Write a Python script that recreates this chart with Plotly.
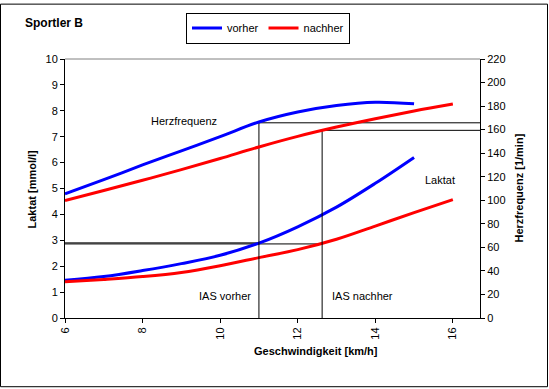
import plotly.graph_objects as go

# ---- data ----
speed_vorher = [6, 7, 8, 9, 10, 11, 12, 13, 14, 15]
hr_vorher = [105.4, 117.5, 130.0, 142.0, 154.0, 166.5, 175.0, 180.5, 183.3, 182.0]
laktat_vorher = [1.46, 1.6, 1.83, 2.1, 2.42, 2.89, 3.52, 4.28, 5.2, 6.2]

speed_nachher = [6, 7, 8, 9, 10, 11, 12, 13, 14, 15, 16]
hr_nachher = [99.8, 108.3, 117.0, 126.0, 135.5, 145.3, 154.3, 162.2, 169.3, 175.8, 181.7]
laktat_nachher = [1.40, 1.49, 1.6, 1.76, 2.02, 2.33, 2.64, 3.04, 3.55, 4.07, 4.57]

ias_speed = [11.0, 12.63]          # vorher, nachher
ias_laktat = [2.9, 2.86]
ias_hr = [165.8, 159.4]

x_range = [6, 16.7]
x_ticks = [6, 8, 10, 12, 14, 16]
laktat_range = [0, 10]
hr_range = [0, 220]

series_names = ["vorher", "nachher"]
colors = ["#0000FF", "#FF0000"]

FONT = "Liberation Sans, Arial, sans-serif"

fig = go.Figure()

# reference lines (IAS)
for i in range(2):
    fig.add_trace(go.Scatter(x=[x_range[0], ias_speed[i]], y=[ias_laktat[i], ias_laktat[i]],
                             mode="lines", line=dict(color="black", width=1),
                             showlegend=False, hoverinfo="skip", yaxis="y"))
    fig.add_trace(go.Scatter(x=[ias_speed[i], ias_speed[i]], y=[0, ias_hr[i]],
                             mode="lines", line=dict(color="black", width=1),
                             showlegend=False, hoverinfo="skip", yaxis="y2"))
    fig.add_trace(go.Scatter(x=[ias_speed[i], x_range[1]], y=[ias_hr[i], ias_hr[i]],
                             mode="lines", line=dict(color="black", width=1),
                             showlegend=False, hoverinfo="skip", yaxis="y2"))

# curves
fig.add_trace(go.Scatter(x=speed_vorher, y=hr_vorher, mode="lines", name=series_names[0],
                         line=dict(color=colors[0], width=3, shape="spline"), yaxis="y2"))
fig.add_trace(go.Scatter(x=speed_nachher, y=hr_nachher, mode="lines", name=series_names[1],
                         line=dict(color=colors[1], width=3, shape="spline"), yaxis="y2"))
fig.add_trace(go.Scatter(x=speed_vorher, y=laktat_vorher, mode="lines", showlegend=False,
                         line=dict(color=colors[0], width=3, shape="spline"), yaxis="y"))
fig.add_trace(go.Scatter(x=speed_nachher, y=laktat_nachher, mode="lines", showlegend=False,
                         line=dict(color=colors[1], width=3, shape="spline"), yaxis="y"))

axis_common = dict(showgrid=False, zeroline=False, showline=True, linecolor="black", linewidth=1,
                   ticks="outside", ticklen=4, tickcolor="black",
                   tickfont=dict(family=FONT, size=11, color="black"))

L, R, T, B = 65, 69, 56, 71
W, H = 549, 389
pw, ph = W - L - R, H - T - B

def px_x(p):
    return (p - L) / pw

def px_y(p):
    return (H - B - p) / ph

fig.update_layout(
    width=W, height=H,
    margin=dict(l=L, r=R, t=T, b=B, pad=0),
    paper_bgcolor="white", plot_bgcolor="white",
    font=dict(family=FONT, size=11, color="black"),
    xaxis=dict(range=x_range, tickvals=x_ticks, tickangle=-90, **axis_common),
    yaxis=dict(range=laktat_range, dtick=1, **axis_common),
    yaxis2=dict(range=hr_range, dtick=20, overlaying="y", side="right", **axis_common),
    showlegend=True,
    legend=dict(orientation="h", x=px_x(186), y=px_y(9), xanchor="left", yanchor="top",
                bordercolor="black", borderwidth=1, bgcolor="white",
                font=dict(family=FONT, size=11), itemwidth=30,
                tracegroupgap=0),
    annotations=[
        dict(text="<b>Sportler B</b>", xref="paper", yref="paper", x=px_x(23), y=px_y(20),
             xanchor="left", yanchor="middle", showarrow=False, font=dict(size=12)),
        dict(text="<b>Geschwindigkeit [km/h]</b>", xref="paper", yref="paper", x=px_x(316), y=px_y(351),
             xanchor="center", yanchor="middle", showarrow=False, font=dict(size=11)),
        dict(text="<b>Laktat [mmol/l]</b>", xref="paper", yref="paper", x=px_x(32), y=px_y(188),
             xanchor="center", yanchor="middle", showarrow=False, textangle=-90, font=dict(size=11)),
        dict(text="<b>Herzfrequenz [1/min]</b>", xref="paper", yref="paper", x=px_x(518), y=px_y(187),
             xanchor="center", yanchor="middle", showarrow=False, textangle=-90, font=dict(size=11)),
        dict(text="Herzfrequenz", xref="x", yref="y", x=8.16, y=7.6,
             xanchor="left", yanchor="middle", showarrow=False),
        dict(text="Laktat", xref="x", yref="y", x=15.23, y=5.31,
             xanchor="left", yanchor="middle", showarrow=False),
        dict(text="IAS vorher", xref="x", yref="y", x=9.41, y=0.86,
             xanchor="left", yanchor="middle", showarrow=False),
        dict(text="IAS nachher", xref="x", yref="y", x=12.84, y=0.86,
             xanchor="left", yanchor="middle", showarrow=False),
    ],
    shapes=[
        dict(type="line", xref="paper", yref="paper", x0=0, x1=1, y0=1, y1=1,
             line=dict(color="#808080", width=1)),
        dict(type="rect", xref="paper", yref="paper", x0=px_x(0.5), x1=px_x(547.5),
             y0=px_y(387.5), y1=px_y(0.5), line=dict(color="black", width=1)),
    ],
)

fig.write_html("out.html", config={"displayModeBar": False},
               post_script="document.body.style.margin='0';document.body.style.padding='0';")
